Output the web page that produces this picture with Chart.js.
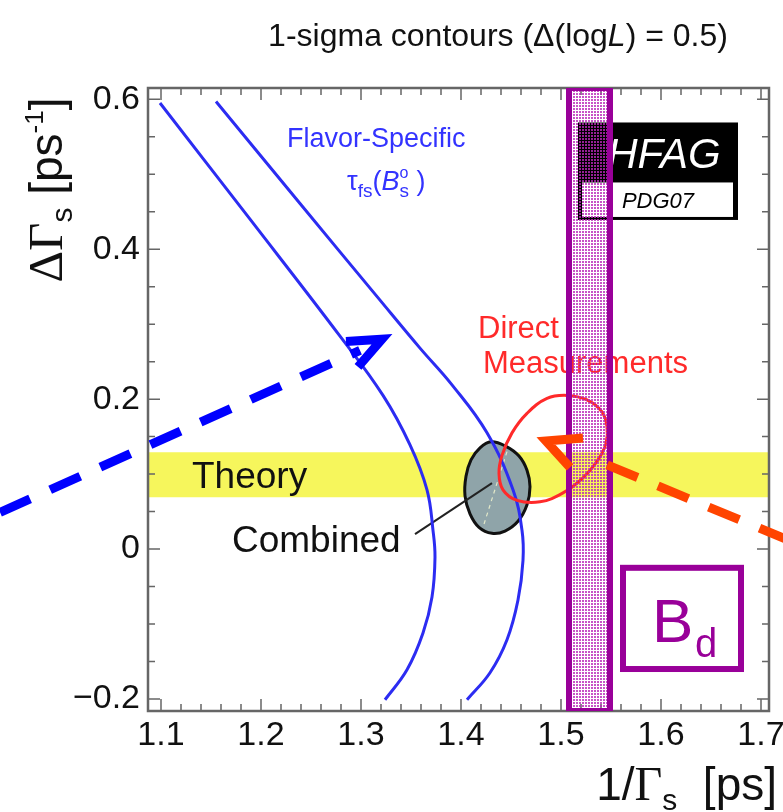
<!DOCTYPE html>
<html>
<head>
<meta charset="utf-8">
<script src="https://cdn.jsdelivr.net/npm/chart.js@4.4.0/dist/chart.umd.min.js"></script>
<style>
  html, body { margin: 0; padding: 0; background: #fff; }
</style>
</head>
<body>
<canvas id="myChart" width="783" height="812"></canvas>
<script>
const ctx = document.getElementById('myChart');
const SANS = 'Liberation Sans';
const SERIF = 'Liberation Serif';

// axis ranges and tick labels
const xRange = [1.087, 1.708];
const yRange = [-0.216, 0.615];
const xTicks = [1.1, 1.2, 1.3, 1.4, 1.5, 1.6, 1.7];
const yTicks = [-0.2, 0, 0.2, 0.4, 0.6];

// flavor-specific lifetime contour, two branches
const fsLeftX = [1.099, 1.189, 1.279, 1.322, 1.349, 1.366, 1.372, 1.374, 1.371, 1.362, 1.346, 1.324];
const fsLeftY = [0.595, 0.440, 0.284, 0.205, 0.139, 0.079, 0.025, -0.011, -0.064, -0.112, -0.161, -0.201];
const fsRightX = [1.155, 1.239, 1.319, 1.359, 1.391, 1.426, 1.452, 1.461, 1.462, 1.457, 1.446, 1.429, 1.406];
const fsRightY = [0.597, 0.461, 0.332, 0.268, 0.219, 0.155, 0.079, 0.025, -0.015, -0.068, -0.121, -0.165, -0.201];

// direct measurements contour (red), closed
const directX = [1.506, 1.526, 1.541, 1.546, 1.545, 1.537, 1.522, 1.502, 1.479, 1.456, 1.442, 1.438, 1.441, 1.451, 1.466, 1.486];
const directY = [0.205, 0.199, 0.183, 0.163, 0.141, 0.119, 0.095, 0.075, 0.063, 0.065, 0.079, 0.101, 0.125, 0.155, 0.181, 0.201];

// combined contour (grey), closed
const combX = [1.430, 1.445, 1.458, 1.466, 1.469, 1.466, 1.457, 1.444, 1.431, 1.418, 1.409, 1.404, 1.405, 1.410, 1.419];
const combY = [0.143, 0.137, 0.124, 0.105, 0.083, 0.059, 0.037, 0.024, 0.021, 0.029, 0.047, 0.071, 0.097, 0.119, 0.135];

// theory band (dGamma) and B_d lifetime band (1/Gamma)
const theoryBand = [0.069, 0.129];
const bdBand = [1.508, 1.549];

// label pointer and the faint line inside the combined contour
const pointerX = [1.354, 1.431];
const pointerY = [0.020, 0.088];
const innerX = [1.446, 1.422];
const innerY = [0.130, 0.029];

// the two dashed arrows drawn on top
const blueShaftX = [0.939, 1.299];
const blueShaftY = [0.049, 0.265];
const blueHeadX = [1.285, 1.321, 1.297];
const blueHeadY = [0.277, 0.280, 0.243];
const redShaftX = [1.729, 1.527];
const redShaftY = [0.011, 0.123];
const redHeadX = [1.522, 1.485, 1.509];
const redHeadY = [0.148, 0.144, 0.109];

function pts(xs, ys) {
  return xs.map((x, i) => ({ x: x, y: ys[i] }));
}

function box(x0, x1, y0, y1) {
  return [{ x: x0, y: y0 }, { x: x1, y: y0 }, { x: x1, y: y1 }, { x: x0, y: y1 }, { x: x0, y: y0 }];
}

// closed contour: one extra point on each side so the spline has no corner,
// the two extra end segments are drawn transparent
function loopSet(xs, ys, color, extra) {
  const n = xs.length;
  const idx = [n - 1].concat(xs.map((_, i) => i), [0, 1]);
  const last = idx.length - 1;
  return Object.assign({
    data: idx.map(i => ({ x: xs[i], y: ys[i] })),
    borderColor: color,
    tension: 0.4,
    segment: {
      borderColor: s => (s.p0DataIndex === 0 || s.p1DataIndex === last) ? 'rgba(0,0,0,0)' : color
    }
  }, extra);
}

function dotPattern() { // pink dotted fill of the B_d band
  const c = document.createElement('canvas');
  c.width = 3; c.height = 3;
  const g = c.getContext('2d');
  g.fillStyle = 'rgba(185, 40, 185, 0.8)';
  g.fillRect(0, 0, 2, 2);
  return g.createPattern(c, 'repeat');
}

function drawRich(c, x, y, parts, align) {
  let w = 0;
  parts.forEach(p => { c.font = p.f; if (!p.stay) w += c.measureText(p.t).width; });
  let cx = align === 'center' ? x - w / 2 : align === 'right' ? x - w : x;
  parts.forEach(p => {
    c.font = p.f;
    c.fillText(p.t, cx, y + (p.dy || 0));
    if (!p.stay) cx += c.measureText(p.t).width;
  });
}

// back-to-front
const layers = [
  { data: box(xRange[0], xRange[1], theoryBand[0], theoryBand[1]), fill: 'shape', backgroundColor: '#f6f65c', borderWidth: 0, tension: 0 },
  loopSet(combX, combY, '#111', { fill: 'shape', backgroundColor: '#8fa4a9', borderWidth: 3 }),
  { data: pts(innerX, innerY), borderColor: 'rgba(235,240,205,0.9)', borderWidth: 1.2, borderDash: [4, 4], tension: 0 },
  { data: pts(pointerX, pointerY), borderColor: '#222', borderWidth: 2, tension: 0 },
  { data: pts(fsLeftX, fsLeftY), borderColor: '#2c2cf2', borderWidth: 3, tension: 0.4 },
  { data: pts(fsRightX, fsRightY), borderColor: '#2c2cf2', borderWidth: 3, tension: 0.4 },
  loopSet(directX, directY, '#ff2a2a', { borderWidth: 3 }),
  { data: box(bdBand[0], bdBand[1], yRange[0], yRange[1]), fill: 'shape', backgroundColor: dotPattern(), borderColor: '#990099', borderWidth: 6, tension: 0 },
  { data: pts(blueShaftX, blueShaftY), borderColor: '#0000ff', borderWidth: 9, borderDash: [33, 22], tension: 0, clip: false },
  { data: pts(blueHeadX, blueHeadY), borderColor: '#0000ff', borderWidth: 9, borderJoinStyle: 'miter', tension: 0, clip: false },
  { data: pts(redShaftX, redShaftY), borderColor: '#ff4400', borderWidth: 9, borderDash: [33, 22], tension: 0, clip: false },
  { data: pts(redHeadX, redHeadY), borderColor: '#ff4400', borderWidth: 9, borderJoinStyle: 'miter', tension: 0, clip: false }
];
const datasets = layers.map((d, i) => Object.assign({ fill: false, pointRadius: 0, order: layers.length - i }, d));

const extras = {
  id: 'extras',
  afterDatasetDraw(chart, args) {
    if (args.index !== 0) return; // right after the theory band
    const c = chart.ctx, a = chart.chartArea;
    const X = v => chart.scales.x.getPixelForValue(v);
    const Y = v => chart.scales.y.getPixelForValue(v);
    c.save();
    // frame with inward ticks on all sides
    c.strokeStyle = '#666';
    c.lineWidth = 1.5;
    c.beginPath();
    for (let k = 0; k <= 30; k++) {
      const x = X(1.1 + k * 0.02), len = k % 5 === 0 ? 12 : 7;
      c.moveTo(x, a.bottom); c.lineTo(x, a.bottom - len);
      c.moveTo(x, a.top); c.lineTo(x, a.top + len);
    }
    for (let k = 0; k <= 16; k++) {
      const y = Y(-0.2 + k * 0.05), len = k % 4 === 0 ? 12 : 7;
      c.moveTo(a.left, y); c.lineTo(a.left + len, y);
      c.moveTo(a.right, y); c.lineTo(a.right - len, y);
    }
    c.stroke();
    c.lineWidth = 2.5;
    c.strokeRect(a.left, a.top, a.right - a.left, a.bottom - a.top);

    // HFAG logo
    c.fillStyle = '#000';
    c.fillRect(X(1.517), Y(0.569), X(1.677) - X(1.517), Y(0.439) - Y(0.569));
    c.fillStyle = '#fff';
    c.fillRect(X(1.521), Y(0.489), X(1.672) - X(1.521), Y(0.443) - Y(0.489));
    c.textBaseline = 'alphabetic';
    c.textAlign = 'center';
    c.font = 'italic 42px ' + SANS;
    c.fillText('HFAG', X(1.603), Y(0.508));
    c.fillStyle = '#000';
    c.font = 'italic 22px ' + SANS;
    c.fillText('PDG07', X(1.597), Y(0.455));

    // text labels
    c.textAlign = 'left';
    c.fillStyle = '#3333ff';
    c.font = '27px ' + SANS;
    c.fillText('Flavor-Specific', X(1.226), Y(0.536));
    drawRich(c, X(1.286), Y(0.479), [
      { t: '\u03c4', f: '27px ' + SANS },
      { t: 'fs', f: '19px ' + SANS, dy: 7 },
      { t: '(', f: '27px ' + SANS },
      { t: 'B', f: 'italic 27px ' + SANS },
      { t: 'o', f: '16px ' + SANS, dy: -12, stay: true },
      { t: 's', f: '19px ' + SANS, dy: 7 },
      { t: ' )', f: '27px ' + SANS }
    ], 'left');
    c.fillStyle = '#ff2a2a';
    c.font = '31px ' + SANS;
    c.fillText('Direct', X(1.417), Y(0.281));
    c.fillText('Measurements', X(1.422), Y(0.235));
    c.fillStyle = '#111';
    c.font = '37px ' + SANS;
    c.fillText('Theory', X(1.131), Y(0.081));
    c.fillText('Combined', X(1.171), Y(-0.004));
    c.restore();
  },
  afterDatasetsDraw(chart) {
    const c = chart.ctx;
    const X = v => chart.scales.x.getPixelForValue(v);
    const Y = v => chart.scales.y.getPixelForValue(v);
    c.save();
    // B_d tag
    c.strokeStyle = '#990099';
    c.lineWidth = 6;
    c.strokeRect(X(1.562), Y(-0.025), X(1.680) - X(1.562), Y(-0.160) - Y(-0.025));
    c.fillStyle = '#990099';
    c.textAlign = 'left';
    c.textBaseline = 'alphabetic';
    c.font = '62px ' + SANS;
    c.fillText('B', X(1.591), Y(-0.124));
    c.font = '40px ' + SANS;
    c.fillText('d', X(1.634), Y(-0.144));
    c.restore();
  },
  afterDraw(chart) {
    const c = chart.ctx;
    c.save();
    c.fillStyle = '#111';
    c.textAlign = 'left';
    c.textBaseline = 'alphabetic';
    drawRich(c, 498, 46, [
      { t: '1-sigma contours (\u0394(log', f: '32px ' + SANS },
      { t: 'L', f: 'italic 32px ' + SANS },
      { t: ') = 0.5)', f: '32px ' + SANS }
    ], 'center');
    drawRich(c, 777, 800, [
      { t: '1/', f: '46px ' + SANS },
      { t: '\u0393', f: '48px ' + SERIF },
      { t: 's', f: '30px ' + SANS, dy: 10 },
      { t: '  [ps]', f: '46px ' + SANS }
    ], 'right');
    c.translate(62, 190);
    c.rotate(-Math.PI / 2);
    drawRich(c, 0, 0, [
      { t: '\u0394\u0393', f: '49px ' + SERIF },
      { t: 's', f: '30px ' + SANS, dy: 10 },
      { t: ' [ps', f: '46px ' + SANS },
      { t: '-1', f: '26px ' + SANS, dy: -19 },
      { t: ']', f: '46px ' + SANS }
    ], 'center');
    c.restore();
  }
};

new Chart(ctx, {
  type: 'line',
  data: { datasets: datasets },
  options: {
    responsive: false,
    animation: false,
    events: [],
    devicePixelRatio: 1,
    layout: { padding: { top: 88, right: 14, left: 0, bottom: 0 } },
    plugins: { legend: { display: false }, tooltip: { enabled: false } },
    scales: {
      x: {
        type: 'linear',
        min: xRange[0],
        max: xRange[1],
        grid: { display: false, drawTicks: false },
        border: { display: false },
        afterBuildTicks: s => { s.ticks = xTicks.map(v => ({ value: v })); },
        afterFit: s => { s.height = 101; s.paddingLeft = 0; s.paddingRight = 0; },
        ticks: {
          font: { family: SANS, size: 34 },
          color: '#111',
          padding: 4,
          maxRotation: 0,
          autoSkip: false,
          callback: v => v.toFixed(1)
        }
      },
      y: {
        type: 'linear',
        min: yRange[0],
        max: yRange[1],
        grid: { display: false, drawTicks: false },
        border: { display: false },
        afterBuildTicks: s => { s.ticks = yTicks.map(v => ({ value: v })); },
        afterFit: s => { s.width = 148; s.paddingTop = 0; s.paddingBottom = 0; },
        ticks: {
          font: { family: SANS, size: 34 },
          color: '#111',
          padding: 8,
          autoSkip: false,
          callback: v => v === 0 ? '0' : (v < 0 ? '\u2212' + Math.abs(v).toFixed(1) : v.toFixed(1))
        }
      }
    }
  },
  plugins: [extras]
});
</script>
</body>
</html>
